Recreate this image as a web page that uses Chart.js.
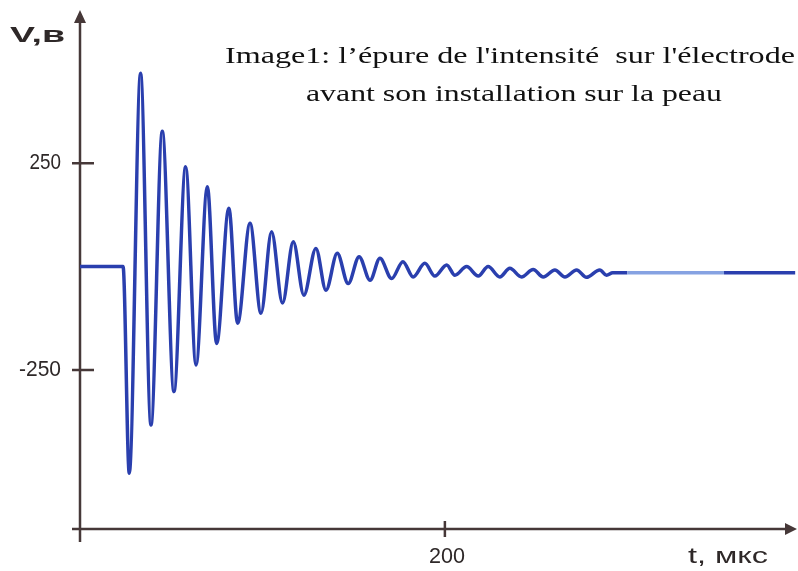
<!DOCTYPE html>
<html>
<head>
<meta charset="utf-8">
<script src="https://cdn.jsdelivr.net/npm/chart.js@4/dist/chart.umd.min.js"></script>
<style>
  body { margin: 0; background: #fff; }
  #wrap { position: relative; width: 798px; height: 571px; }
</style>
</head>
<body>
<div id="wrap"><canvas id="chart"></canvas></div>
<script>
// t, мкс
var times = [0, 23.6, 27, 33.2, 38.9, 45.1, 51.5, 57.9, 63.6, 69.8, 74.9, 81.6, 86.4, 93.2, 99.2,
	105, 111, 116.9, 122.7, 129.3, 134.8, 141, 147, 153, 159, 164.4, 170.8, 177, 182.6, 189, 194.5,
	201, 205.5, 211.9, 218.3, 223.7, 230.1, 235.6, 242, 248.4, 253.9, 260.3, 265.8, 272.2, 277.6,
	284.9, 288.6, 292, 300, 353, 392];
// V, в
var volts = [0, 0, -499, 467, -383, 327, -302, 241, -238, 193, -186, 141, -137, 105, -113,
	84, -88, 60, -69, 44, -57, 32, -41, 24, -33, 20, -29, 12, -25, 8, -23,
	4, -21, 0, -23, 0, -25, -4, -25, -7, -25, -8, -25, -8, -26,
	-8, -21, -15, -15, -15, -15];
var yTicks = [-250, 250];
var xTicks = [200];
var titleLines = ["Image1: l\u2019épure de l'intensité  sur l'électrode", "avant son installation sur la peau"];

var axisColor = '#463838';
var textColor = '#2e2828';
var dark = '#2a3fae';
var light = '#86a2e2';

var points = [];
for (var i = 0; i < times.length; i++) {
	points.push({x: times[i], y: volts[i]});
}

// texte étiré horizontalement pour coller à la largeur voulue
var fitText = function (ctx, str, x, y, w, align) {
	var m = ctx.measureText(str).width;
	ctx.save();
	ctx.translate(x, y);
	ctx.scale(w / m, 1);
	ctx.textAlign = align;
	ctx.fillText(str, 0, 0);
	ctx.restore();
};

var axes = {
	id: 'axes',
	beforeDatasetsDraw: function (chart) {
		var ctx = chart.ctx;
		var xs = chart.scales.x, ys = chart.scales.y;
		var x0 = xs.getPixelForValue(0);
		var top = chart.chartArea.top, bottom = chart.chartArea.bottom, right = chart.chartArea.right;
		ctx.save();
		ctx.strokeStyle = axisColor;
		ctx.fillStyle = axisColor;
		ctx.lineWidth = 2.5;
		ctx.beginPath();
		ctx.moveTo(x0, top + 8);
		ctx.lineTo(x0, bottom + 13);
		ctx.moveTo(x0 - 8, bottom);
		ctx.lineTo(right - 8, bottom);
		yTicks.forEach(function (v) {
			var py = ys.getPixelForValue(v);
			ctx.moveTo(x0 - 8, py);
			ctx.lineTo(x0 + 14, py);
		});
		xTicks.forEach(function (v) {
			var px = xs.getPixelForValue(v);
			ctx.moveTo(px, bottom - 8);
			ctx.lineTo(px, bottom + 8);
		});
		ctx.stroke();
		// flèches
		ctx.beginPath();
		ctx.moveTo(x0, top);
		ctx.lineTo(x0 - 6, top + 13);
		ctx.lineTo(x0 + 6, top + 13);
		ctx.closePath();
		ctx.moveTo(right, bottom);
		ctx.lineTo(right - 12, bottom - 6);
		ctx.lineTo(right - 12, bottom + 6);
		ctx.closePath();
		ctx.fill();
		ctx.restore();
	},
	afterDraw: function (chart) {
		var ctx = chart.ctx;
		var xs = chart.scales.x, ys = chart.scales.y;
		var bottom = chart.chartArea.bottom;
		ctx.save();
		ctx.fillStyle = textColor;
		ctx.textBaseline = 'middle';
		ctx.font = '22px "Liberation Sans", Arial, sans-serif';
		yTicks.forEach(function (v) {
			var s = String(v);
			fitText(ctx, s, 61, ys.getPixelForValue(v), s.length * 10.5, 'right');
		});
		ctx.textBaseline = 'alphabetic';
		xTicks.forEach(function (v) {
			fitText(ctx, String(v), xs.getPixelForValue(v) + 2, bottom + 34, 36, 'center');
		});
		fitText(ctx, 't, мкс', 688, bottom + 34, 80, 'left');
		ctx.font = 'bold 22px "Liberation Sans", Arial, sans-serif';
		fitText(ctx, 'V,в', 10, 42, 55, 'left');
		ctx.fillStyle = '#111';
		ctx.font = '23px "Liberation Serif", "Times New Roman", serif';
		fitText(ctx, titleLines[0], 510, 63, 570, 'center');
		fitText(ctx, titleLines[1], 514, 101, 416, 'center');
		ctx.restore();
	}
};

var ctx = document.getElementById('chart').getContext('2d');
var chart = new Chart(ctx, {
	type: 'line',
	data: {
		datasets: [{
			data: points,
			borderColor: dark,
			borderWidth: 3.5,
			pointRadius: 0,
			cubicInterpolationMode: 'monotone',
			segment: {
				borderColor: function (c) {
					return (c.p0.parsed.x >= 300 && c.p1.parsed.x <= 353) ? light : dark;
				}
			}
		}]
	},
	options: {
		responsive: true,
		maintainAspectRatio: false,
		animation: false,
		layout: { padding: { left: 80, right: 1, top: 10, bottom: 42 } },
		scales: {
			x: { type: 'linear', min: 0, max: 393, display: false },
			y: { type: 'linear', min: -634, max: 620, display: false }
		},
		plugins: {
			legend: { display: false },
			tooltip: { enabled: false }
		}
	},
	plugins: [axes]
});
</script>
</body>
</html>
